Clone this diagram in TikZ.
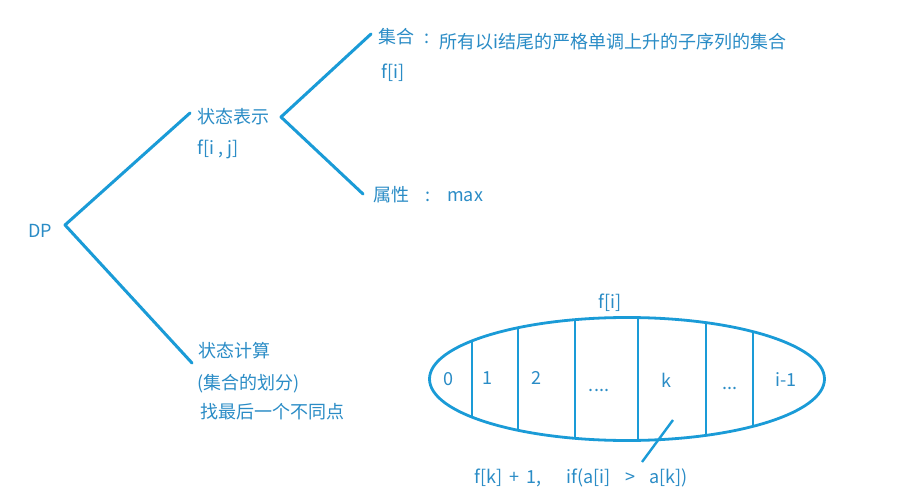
\documentclass[tikz,border=0pt]{standalone}
\usepackage{fontspec}
\setmainfont{Noto Sans CJK SC}
\definecolor{lineblue}{HTML}{1A9BD7}
\definecolor{textblue}{HTML}{2A8CC6}
\begin{document}
\begin{tikzpicture}[x=1pt,y=-1pt,
  lbl/.style={anchor=base west,inner sep=0pt,text=textblue,font=\fontsize{18}{20}\selectfont},
  lblc/.style={anchor=base,inner sep=0pt,text=textblue,font=\fontsize{18}{20}\selectfont},
  branch/.style={draw=lineblue,line width=3pt,line cap=round,line join=round},
  part/.style={draw=lineblue,line width=2.8pt}]
\useasboundingbox (0,0) rectangle (906,500);
\fill[white] (0,0) rectangle (906,500);
% tree
\coordinate (dpv) at (65,225);
\coordinate (reprv) at (281,117);
\coordinate (reprend) at (190,113);
\coordinate (calcend) at (192,363);
\coordinate (setend) at (371,34);
\coordinate (attrend) at (363,194);
\draw[branch] (reprend) -- (dpv) -- (calcend);
\draw[branch] (setend) -- (reprv) -- (attrend);
\node[lbl] (dp) at (28,237) {DP};
\node[lbl] (repr) at (197,124) {状态表示};
\node[lbl] (fij) at (197,155) {f[i , j]};
\node[lbl] (set) at (378,44) {集合};
\node[lbl] (setc) at (424,44) {:};
\node[lbl] (setdesc) at (439,49) {所有以i结尾的严格单调上升的子序列的集合};
\node[lbl] (fi) at (381,79) {f[i]};
\node[lbl] (attr) at (373,202) {属性};
\node[lbl] (attrc) at (425,202) {:};
\node[lbl] (max) at (447,202) {max};
\node[lbl] (calc) at (198,357) {状态计算};
\node[lbl] (part1) at (197,389) {(集合的划分)};
\node[lbl] (part2) at (200,418) {找最后一个不同点};
% ellipse
\node[lblc] (fitop) at (610,308) {f[i]};
\begin{scope}
  \clip (627,379) ellipse [x radius=197.5, y radius=61.5];
  \foreach \x in {472,518,575,638,706,753}
    \draw[part] (\x,300) -- (\x,460);
\end{scope}
\draw[part] (627,379) ellipse [x radius=197.5, y radius=61.5];
\node[lblc] (c0) at (448,385) {0};
\node[lblc] (c1) at (487,384) {1};
\node[lblc] (c2) at (536,384) {2};
\node[lblc] (c3) at (599,391) {....};
\node[lblc] (c4) at (666,387) {k};
\node[lblc] (c5) at (730,389) {...};
\node[lblc] (c6) at (786,386) {i-1};
\coordinate (slasha) at (673,420);
\coordinate (slashb) at (642,462);
\draw[draw=lineblue,line width=2.4pt] (slasha) -- (slashb);
\node[lbl] (rec) at (474,483) {f[k]\hspace{0.4em}+\hspace{0.4em}1,\hspace{1.4em}if(a[i]\hspace{0.8em}>\hspace{0.8em}a[k])};
\end{tikzpicture}
\end{document}
